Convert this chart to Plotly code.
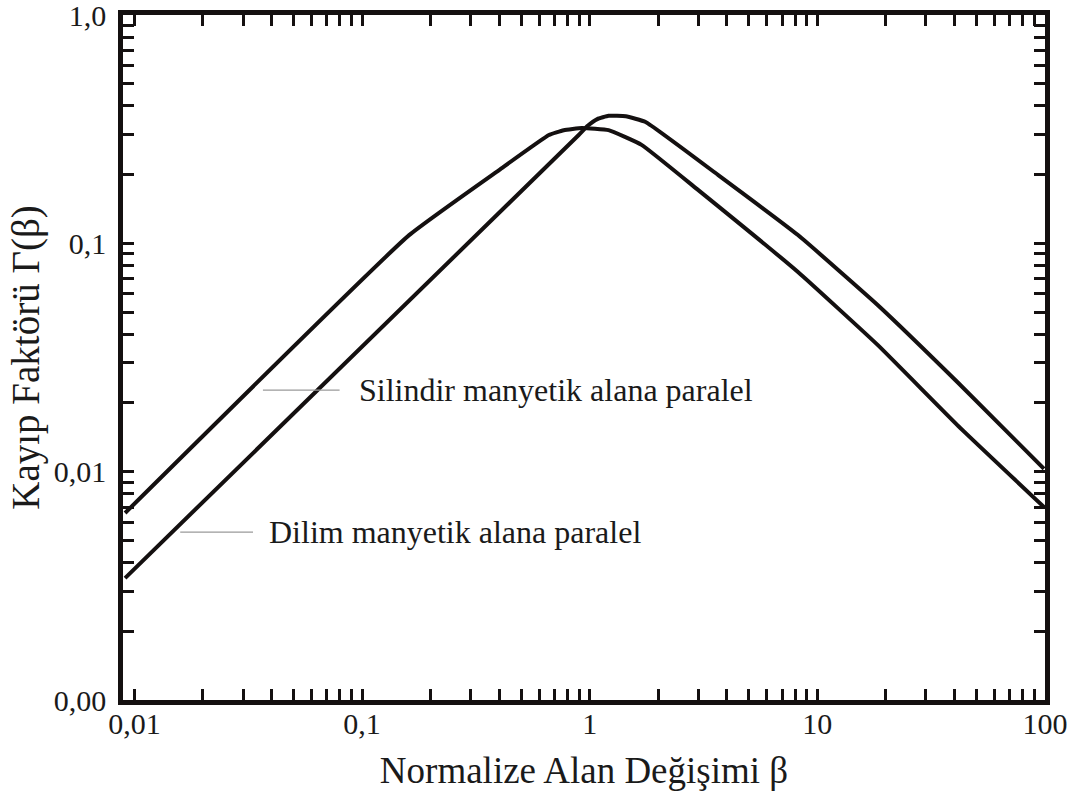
import plotly.graph_objects as go
import numpy as np

# --- data ---
beta_silindir = [0.0091, 0.161, 0.400, 0.662, 0.769, 0.923, 1.21, 1.69, 3.0, 8.22, 18.4, 41.2, 99.0]
gamma_silindir = [0.00659, 0.1086, 0.2094, 0.298, 0.313, 0.320, 0.313, 0.270, 0.171, 0.0749, 0.0359, 0.0160, 0.0070]

beta_dilim = [0.0091, 0.895, 0.98, 1.08, 1.21, 1.44, 1.76, 3.67, 8.22, 18.4, 41.2, 99.0]
gamma_dilim = [0.00342, 0.298, 0.327, 0.350, 0.362, 0.360, 0.340, 0.199, 0.1087, 0.0537, 0.0247, 0.0103]

x_major = [0.01, 0.1, 1, 10, 100]
x_major_labels = ["0,01", "0,1", "1", "10", "100"]
y_major = [0.001, 0.01, 0.1, 1.0]
y_major_labels = ["0,00", "0,01", "0,1", "1,0"]

label_silindir = "Silindir manyetik alana paralel"
label_dilim = "Dilim manyetik alana paralel"
x_title = "Normalize Alan Değişimi β"
y_title = "Kayıp Faktörü Γ(β)"

# leader lines / label anchor points (data coordinates)
leader_silindir_x = [0.0367, 0.0797]
leader_silindir_y = [0.02276, 0.02276]
leader_dilim_x = [0.0159, 0.0332]
leader_dilim_y = [0.00543, 0.00543]
text_silindir_pos = (0.0955, 0.02276)
text_dilim_pos = (0.0382, 0.00543)

# tick positions
def log_ticks(majors):
    vals = []
    for i, m in enumerate(majors):
        vals.append(m)
        if i < len(majors) - 1:
            for k in range(2, 10):
                vals.append(m * k)
    return vals

xv = log_ticks(x_major)
xt = [x_major_labels[x_major.index(v)] if v in x_major else "" for v in xv]
yv = log_ticks(y_major)
yt = [y_major_labels[y_major.index(v)] if v in y_major else "" for v in yv]

SERIF = "Liberation Serif, Times New Roman, serif"
INK = "#141010"
TXT = "#1a1a1a"

fig = go.Figure()
fig.add_trace(go.Scatter(x=beta_silindir, y=gamma_silindir, mode="lines",
                         line=dict(color=INK, width=4, shape="spline", smoothing=0.35),
                         showlegend=False, hoverinfo="skip"))
fig.add_trace(go.Scatter(x=beta_dilim, y=gamma_dilim, mode="lines",
                         line=dict(color=INK, width=4, shape="spline", smoothing=0.35),
                         showlegend=False, hoverinfo="skip"))
fig.add_trace(go.Scatter(x=leader_silindir_x, y=leader_silindir_y, mode="lines",
                         line=dict(color="#9a9a9a", width=1.2), showlegend=False, hoverinfo="skip"))
fig.add_trace(go.Scatter(x=leader_dilim_x, y=leader_dilim_y, mode="lines",
                         line=dict(color="#9a9a9a", width=1.2), showlegend=False, hoverinfo="skip"))

fig.add_annotation(x=np.log10(text_silindir_pos[0]), y=np.log10(text_silindir_pos[1]),
                   text=label_silindir, showarrow=False, xanchor="left", yanchor="middle",
                   font=dict(family=SERIF, size=32, color=TXT))
fig.add_annotation(x=np.log10(text_dilim_pos[0]), y=np.log10(text_dilim_pos[1]),
                   text=label_dilim, showarrow=False, xanchor="left", yanchor="middle",
                   font=dict(family=SERIF, size=32, color=TXT))

axis_common = dict(type="log", showgrid=False, zeroline=False, showline=True,
                   linecolor=INK, linewidth=4.5, mirror="ticks", automargin=False,
                   ticks="inside", ticklen=11, tickwidth=2.5, tickcolor=INK,
                   ticklabeloverflow="allow",
                   tickmode="array", tickfont=dict(family=SERIF, size=30, color=TXT))

fig.update_xaxes(**axis_common, range=[-2.05, 2.0], tickvals=xv, ticktext=xt,
                 ticklabelstandoff=-7,
                 title=dict(text=x_title, font=dict(family=SERIF, size=37, color=TXT), standoff=20))
fig.update_yaxes(**axis_common, range=[-3, 0], tickvals=yv, ticktext=yt,
                 ticklabelstandoff=6,
                 title=dict(text=y_title, font=dict(family=SERIF, size=39, color=TXT), standoff=4))

fig.update_layout(width=1071, height=805, margin=dict(l=123, r=26, t=15, b=105),
                  plot_bgcolor="white", paper_bgcolor="white")

fig.write_html("out.html", config={"displayModeBar": False},
               post_script="document.body.style.margin='0';document.body.style.overflow='hidden';")
